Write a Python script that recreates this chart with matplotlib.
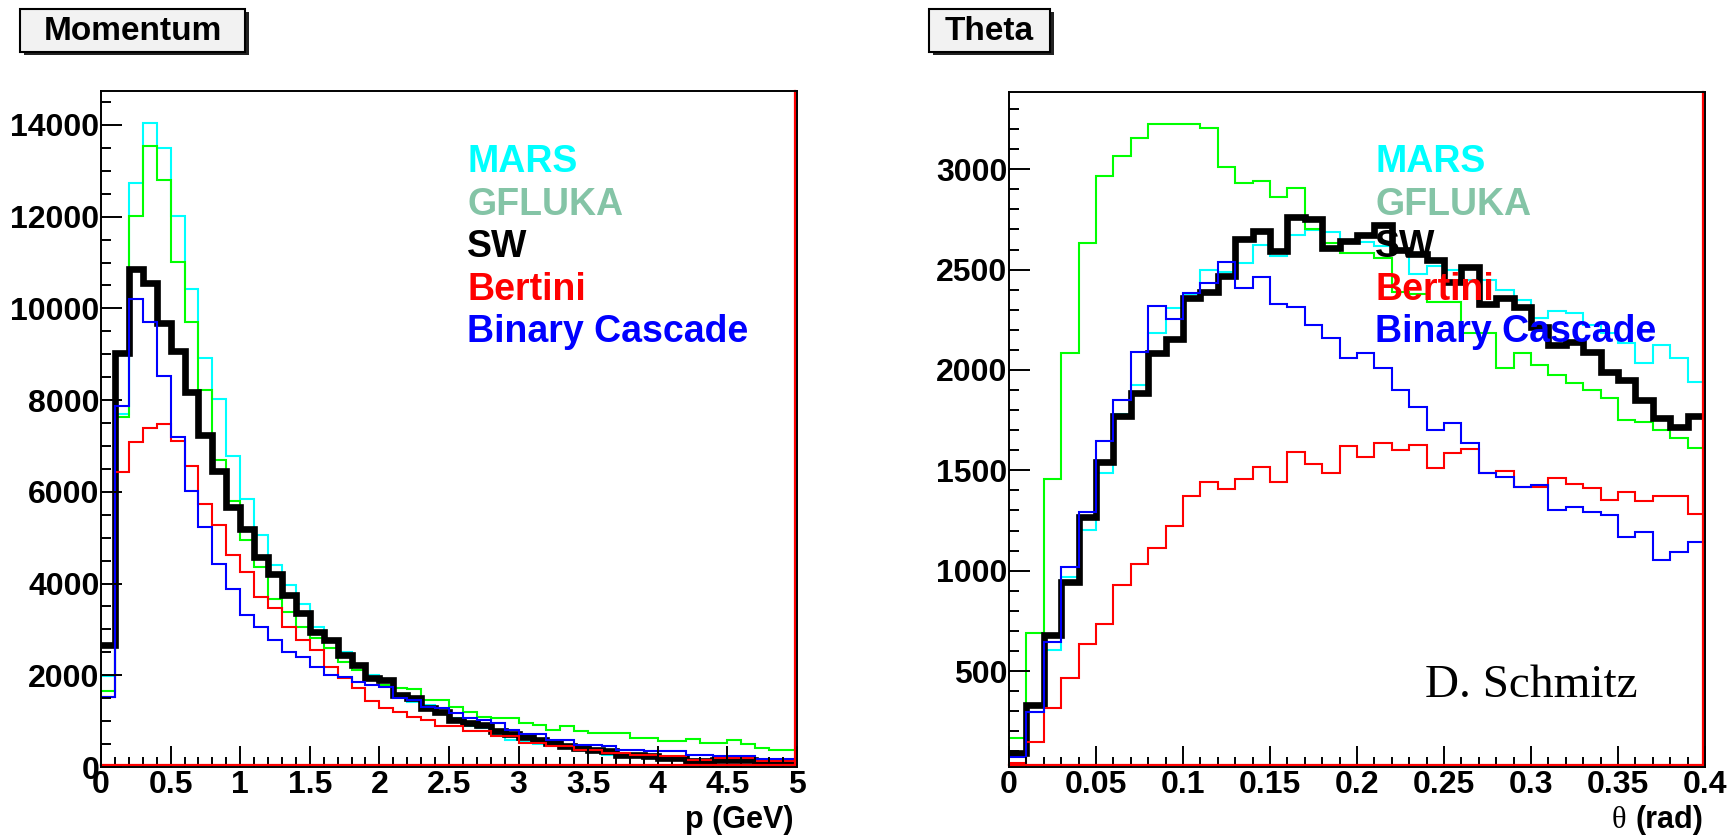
import numpy as np
import matplotlib
matplotlib.use('Agg')
import matplotlib.pyplot as plt
from matplotlib.patches import Rectangle
from matplotlib.ticker import MultipleLocator, FuncFormatter

# 数据: momentum (50 bins, 0-5 GeV)
p_edges = np.linspace(0, 5, 51)
p_mars = [1980, 7700, 12730, 14036, 13493, 12007, 10413, 8928, 8022, 6790,
          5848, 5051, 4399, 3964, 3550, 3058, 2768, 2500, 2225, 2000,
          1870, 1572, 1420, 1350, 1210, 1060, 900, 850, 700, 580,
          540, 500, 450, 420, 380, 330, 260, 230, 210, 200,
          190, 180, 160, 150, 150, 140, 140, 130, 130, 120]
p_gfluka = [1660, 7623, 12007, 13543, 12804, 11007, 9710, 8225, 6700, 5800,
            4942, 4362, 3674, 3384, 3058, 2804, 2587, 2297, 2116, 1899,
            1790, 1717, 1700, 1464, 1464, 1319, 1210, 1101, 1065, 1065,
            957, 920, 812, 884, 775, 739, 739, 739, 630, 630,
            558, 558, 616, 522, 522, 580, 500, 413, 362, 362]
p_sw = [2660, 9036, 10848, 10543, 9690, 9072, 8181, 7250, 6450, 5667,
        5196, 4580, 4217, 3746, 3348, 2949, 2768, 2442, 2225, 1935,
        1899, 1572, 1500, 1283, 1190, 1029, 957, 920, 775, 725,
        645, 594, 522, 457, 413, 377, 341, 268, 268, 232,
        196, 196, 123, 123, 160, 160, 160, 123, 123, 123]
p_bertini = [1520, 6428, 7080, 7384, 7478, 7100, 6572, 5739, 5283, 4616,
             4254, 3710, 3457, 3058, 2768, 2551, 2188, 1935, 1717, 1442,
             1290, 1210, 1101, 1029, 884, 884, 775, 775, 674, 674,
             522, 522, 457, 457, 377, 377, 304, 304, 268, 268,
             232, 232, 160, 160, 196, 196, 196, 123, 123, 123]
p_binary = [1520, 7877, 10210, 9703, 8529, 7188, 6029, 5232, 4435, 3891,
            3312, 3058, 2768, 2514, 2406, 2188, 2007, 1971, 1862, 1790,
            1754, 1500, 1464, 1319, 1283, 1174, 1065, 1029, 957, 812,
            725, 725, 594, 594, 486, 486, 457, 377, 377, 341,
            341, 341, 268, 268, 232, 232, 232, 181, 181, 181]

# 数据: theta (40 bins, 0-0.4 rad)
t_edges = np.linspace(0, 0.4, 41)
t_mars = [80, 298, 605, 970, 1203, 1488, 1780, 1925, 2182, 2307,
          2381, 2497, 2490, 2531, 2625, 2567, 2672, 2697, 2685, 2650,
          2640, 2620, 2600, 2480, 2520, 2500, 2450, 2450, 2398, 2348,
          2257, 2295, 2282, 2224, 2182, 2132, 2033, 2124, 2058, 1941]
t_gfluka = [165, 688, 1455, 2087, 2635, 2966, 3067, 3158, 3228, 3228,
            3228, 3206, 3012, 2932, 2942, 2863, 2909, 2700, 2634, 2584,
            2584, 2556, 2390, 2380, 2340, 2340, 2182, 2182, 2008, 2086,
            2024, 1975, 1933, 1900, 1859, 1750, 1742, 1701, 1659, 1610]
t_sw = [90, 331, 680, 945, 1266, 1543, 1770, 1885, 2083, 2152,
        2360, 2390, 2468, 2655, 2693, 2594, 2763, 2750, 2606, 2643,
        2672, 2722, 2600, 2580, 2547, 2440, 2514, 2331, 2357, 2315,
        2215, 2124, 2141, 2091, 1991, 1950, 1850, 1759, 1717, 1770]
t_bertini = [40, 145, 315, 464, 633, 735, 929, 1033, 1111, 1224,
             1372, 1440, 1407, 1455, 1518, 1440, 1590, 1530, 1485, 1623,
             1565, 1634, 1601, 1626, 1510, 1588, 1605, 1485, 1498, 1419,
             1419, 1463, 1432, 1410, 1352, 1393, 1349, 1372, 1372, 1281]
t_binary = [74, 294, 643, 1020, 1291, 1646, 1850, 2091, 2318, 2252,
            2386, 2434, 2536, 2406, 2464, 2327, 2315, 2224, 2157, 2058,
            2086, 2008, 1900, 1817, 1701, 1737, 1634, 1488, 1465, 1419,
            1427, 1302, 1316, 1294, 1277, 1169, 1191, 1053, 1094, 1144]

labels = ['MARS', 'GFLUKA', 'SW', 'Bertini', 'Binary Cascade']
label_colors = ['#00ffff', '#84c4a6', 'black', '#ff0000', '#0000ff']

W, H = 1735, 838
plt.rcParams['font.family'] = ['Liberation Sans', 'DejaVu Sans']
plt.rcParams['font.weight'] = 'bold'
fig = plt.figure(figsize=(W / 100, H / 100), dpi=100)


def px(x, y):
    return x / W, 1 - y / H


def panel(rect, edges, series, xlim, ylim, xmaj, xmin, ymaj, ymin):
    x0, y0, x1, y1 = rect
    ax = fig.add_axes([x0 / W, 1 - y1 / H, (x1 - x0) / W, (y1 - y0) / H])
    mars, gfluka, sw, bertini, binary = series
    ax.stairs(mars, edges, baseline=None, color='#00ffff', lw=1.5)
    ax.stairs(gfluka, edges, baseline=None, color='#00ff00', lw=1.5)
    ax.stairs(sw, edges, baseline=None, color='black', lw=4.8)
    ax.stairs(bertini, edges, baseline=None, color='#ff0000', lw=1.5)
    ax.stairs(binary, edges, baseline=None, color='#0000ff', lw=1.5)
    ax.set_xlim(*xlim)
    ax.set_ylim(*ylim)
    ax.xaxis.set_major_locator(MultipleLocator(xmaj))
    ax.xaxis.set_minor_locator(MultipleLocator(xmin))
    ax.yaxis.set_major_locator(MultipleLocator(ymaj))
    ax.yaxis.set_minor_locator(MultipleLocator(ymin))
    ax.xaxis.set_major_formatter(FuncFormatter(lambda v, pos: '%g' % round(v, 4)))
    ax.tick_params(which='both', direction='in', width=1.4, labelsize=23)
    ax.tick_params(which='major', length=15)
    ax.tick_params(which='minor', length=7)
    ax.tick_params(axis='x', pad=2)
    ax.tick_params(axis='y', pad=1)
    for s in ax.spines.values():
        s.set_linewidth(1.4)
    # red frame lines of the Bertini histogram
    w = x1 - x0
    h = y1 - y0
    ax.plot([0, 1 - 2 / w], [2 / h, 2 / h], transform=ax.transAxes,
            color='#ff0000', lw=1.6, clip_on=False)
    ax.plot([1 - 2 / w, 1 - 2 / w], [2 / h, 1], transform=ax.transAxes,
            color='#ff0000', lw=1.6, clip_on=False)
    # legend text
    for i, (lab, c) in enumerate(zip(labels, label_colors)):
        fig.text(*px(x0 + 366, 172 + 42.5 * i), lab, color=c, fontsize=27,
                 fontweight='bold', va='baseline', ha='left')
    return ax


def title_box(x0, y0, x1, y1, text):
    fig.patches.append(Rectangle(px(x0 + 4, y1 + 3), (x1 - x0) / W, (y1 - y0) / H,
                                 transform=fig.transFigure, facecolor='#222222',
                                 edgecolor='none'))
    fig.patches.append(Rectangle(px(x0, y1), (x1 - x0) / W, (y1 - y0) / H,
                                 transform=fig.transFigure, facecolor='#f2f2f2',
                                 edgecolor='black', lw=1.5))
    fig.text(*px((x0 + x1) / 2, (y0 + y1) / 2 + 1), text, fontsize=24,
             fontweight='bold', ha='center', va='center')


# 动量分布
panel((101, 91, 797, 767), p_edges, [p_mars, p_gfluka, p_sw, p_bertini, p_binary],
      (0, 5), (0, 14740), 0.5, 0.1, 2000, 500)
# 角度分布
panel((1009, 92, 1705, 767), t_edges, [t_mars, t_gfluka, t_sw, t_bertini, t_binary],
      (0, 0.4), (22, 3385), 0.05, 0.01, 500, 100)

title_box(20, 9, 245, 52, 'Momentum')
title_box(929, 9, 1050, 52, 'Theta')

fig.text(*px(793, 828), 'p (GeV)', fontsize=22, fontweight='bold',
         ha='right', va='baseline')
fig.text(*px(1703, 828), '(rad)', fontsize=22, fontweight='bold',
         ha='right', va='baseline')
fig.text(*px(1626, 828), '\u03b8', fontsize=22, fontweight='normal',
         family=['Liberation Serif', 'DejaVu Serif'], ha='right', va='baseline')
fig.text(*px(1425, 697), 'D. Schmitz', fontsize=34, fontweight='normal',
         family=['Liberation Serif', 'DejaVu Serif'], ha='left', va='baseline')

plt.savefig('out.png', dpi=100)
plt.close()
